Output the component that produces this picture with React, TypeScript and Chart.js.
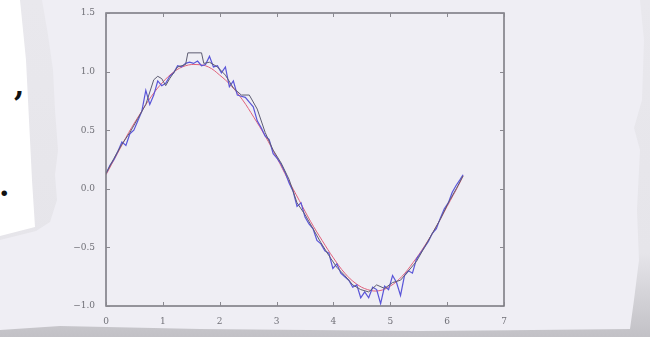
import React, { useEffect, useRef } from "react";
import { Chart, registerables } from "chart.js";

Chart.register(...registerables);

const xTicks = [0, 1, 2, 3, 4, 5, 6, 7];
const yTicks = [-1.0, -0.5, 0.0, 0.5, 1.0, 1.5];

const fitX = [0, 0.2, 0.4, 0.6, 0.8, 1.0, 1.2, 1.4, 1.6, 1.8, 2.0, 2.2, 2.4, 2.6, 2.8, 3.0, 3.2, 3.4, 3.6, 3.8, 4.0, 4.2, 4.4, 4.6, 4.8, 5.0, 5.2, 5.4, 5.6, 5.8, 6.0, 6.2, 6.28];
const fitY = [0.12, 0.3, 0.48, 0.64, 0.79, 0.91, 1.0, 1.05, 1.06, 1.04, 0.97, 0.88, 0.76, 0.61, 0.45, 0.27, 0.08, -0.1, -0.28, -0.44, -0.59, -0.72, -0.81, -0.86, -0.87, -0.83, -0.75, -0.63, -0.49, -0.33, -0.15, 0.03, 0.11];

const noisyX = [0, 0.07, 0.14, 0.21, 0.28, 0.35, 0.42, 0.49, 0.56, 0.63, 0.7, 0.77, 0.84, 0.91, 0.98, 1.05, 1.12, 1.19, 1.26, 1.33, 1.4, 1.47, 1.54, 1.61, 1.68, 1.75, 1.82, 1.89, 1.96, 2.03, 2.1, 2.17, 2.24, 2.31, 2.38, 2.45, 2.52, 2.59, 2.66, 2.73, 2.8, 2.87, 2.94, 3.01, 3.08, 3.15, 3.22, 3.29, 3.36, 3.43, 3.5, 3.57, 3.64, 3.71, 3.78, 3.85, 3.92, 3.99, 4.06, 4.13, 4.2, 4.27, 4.34, 4.41, 4.48, 4.55, 4.62, 4.69, 4.76, 4.83, 4.9, 4.97, 5.04, 5.11, 5.18, 5.25, 5.32, 5.39, 5.46, 5.53, 5.6, 5.67, 5.74, 5.81, 5.88, 5.95, 6.02, 6.09, 6.16, 6.23, 6.28];
const noisyY = [0.13, 0.2, 0.25, 0.32, 0.4, 0.37, 0.47, 0.5, 0.58, 0.66, 0.84, 0.72, 0.8, 0.92, 0.88, 0.9, 0.96, 0.99, 1.05, 1.04, 1.07, 1.08, 1.07, 1.09, 1.05, 1.06, 1.13, 1.04, 1.05, 0.99, 1.04, 0.87, 0.92, 0.8, 0.79, 0.78, 0.74, 0.7, 0.58, 0.52, 0.45, 0.42, 0.3, 0.26, 0.21, 0.14, 0.05, -0.02, -0.15, -0.12, -0.24, -0.3, -0.34, -0.44, -0.47, -0.53, -0.55, -0.68, -0.64, -0.72, -0.75, -0.78, -0.84, -0.82, -0.93, -0.88, -0.93, -0.84, -0.86, -0.98, -0.83, -0.86, -0.74, -0.8, -0.91, -0.74, -0.7, -0.72, -0.6, -0.55, -0.5, -0.45, -0.38, -0.34, -0.25, -0.17, -0.12, -0.03, 0.03, 0.08, 0.12];

const smoothX = [0, 0.14, 0.28, 0.42, 0.56, 0.7, 0.84, 0.91, 0.98, 1.05, 1.12, 1.26, 1.4, 1.44, 1.68, 1.72, 1.82, 1.96, 2.1, 2.24, 2.38, 2.52, 2.66, 2.8, 2.94, 3.08, 3.22, 3.36, 3.5, 3.64, 3.78, 3.92, 4.06, 4.2, 4.34, 4.48, 4.62, 4.76, 4.9, 5.04, 5.18, 5.32, 5.46, 5.6, 5.74, 5.88, 6.02, 6.16, 6.28];
const smoothY = [0.13, 0.26, 0.38, 0.48, 0.6, 0.72, 0.93, 0.96, 0.94, 0.88, 0.94, 1.04, 1.06, 1.16, 1.16, 1.07, 1.08, 1.04, 0.97, 0.86, 0.8, 0.8, 0.68, 0.48, 0.33, 0.22, 0.08, -0.12, -0.22, -0.34, -0.46, -0.57, -0.67, -0.74, -0.82, -0.86, -0.88, -0.82, -0.85, -0.8, -0.78, -0.7, -0.62, -0.5, -0.38, -0.26, -0.12, 0.0, 0.11];

const pts = (xs: number[], ys: number[]) => xs.map((x, i) => ({ x, y: ys[i] }));

const frame = {
  id: "frame",
  afterDatasetsDraw(chart: any) {
    const { ctx, chartArea: a, scales } = chart;
    ctx.save();
    ctx.strokeStyle = "#77767d";
    ctx.lineWidth = 1.5;
    ctx.strokeRect(a.left, a.top, a.right - a.left, a.bottom - a.top);
    ctx.lineWidth = 1;
    ctx.strokeStyle = "#8a8990";
    ctx.beginPath();
    xTicks.forEach((v) => {
      const p = Math.round(scales.x.getPixelForValue(v)) + 0.5;
      ctx.moveTo(p, a.top);
      ctx.lineTo(p, a.top + 4);
      ctx.moveTo(p, a.bottom);
      ctx.lineTo(p, a.bottom - 4);
    });
    yTicks.forEach((v) => {
      const p = Math.round(scales.y.getPixelForValue(v)) + 0.5;
      ctx.moveTo(a.left, p);
      ctx.lineTo(a.left + 4, p);
      ctx.moveTo(a.right, p);
      ctx.lineTo(a.right - 4, p);
    });
    ctx.stroke();
    ctx.restore();
  },
};

export default function App() {
  const ref = useRef<HTMLCanvasElement>(null);
  useEffect(() => {
    if (!ref.current) return;
    const tickFont = { family: "DejaVu Serif", size: 9 };
    const chart = new Chart(ref.current, {
      type: "line",
      data: {
        datasets: [
          { data: pts(smoothX, smoothY), borderColor: "#5d5c72", borderWidth: 1, pointRadius: 0, tension: 0 },
          { data: pts(noisyX, noisyY), borderColor: "#5a55d8", borderWidth: 1.2, pointRadius: 0, tension: 0 },
          { data: pts(fitX, fitY), borderColor: "#e0607a", borderWidth: 1, pointRadius: 0, tension: 0.4 },
        ],
      },
      options: {
        responsive: false,
        animation: false,
        layout: { padding: { left: 72, right: 146, top: 13, bottom: 11 } },
        plugins: { legend: { display: false }, tooltip: { enabled: false } },
        scales: {
          x: {
            type: "linear",
            min: 0,
            max: 7,
            afterBuildTicks: (s: any) => { s.ticks = xTicks.map((v) => ({ value: v })); },
            afterFit: (s: any) => { s.height = 20; },
            grid: { display: false },
            border: { display: false },
            ticks: { font: tickFont, color: "#707077", padding: 2, maxRotation: 0, callback: (v: any) => String(v) },
          },
          y: {
            type: "linear",
            min: -1,
            max: 1.5,
            afterBuildTicks: (s: any) => { s.ticks = yTicks.map((v) => ({ value: v })); },
            afterFit: (s: any) => { s.width = 34; },
            grid: { display: false },
            border: { display: false },
            ticks: {
              font: tickFont,
              color: "#707077",
              padding: 3,
              callback: (v: any) => (v < 0 ? "\u2212" : "") + Math.abs(Number(v)).toFixed(1),
            },
          },
        },
      },
      plugins: [frame],
    });
    return () => chart.destroy();
  }, []);

  const paper =
    "polygon(42px 0, 640px 0, 644px 40px, 642px 100px, 634px 128px, 640px 150px, 637px 210px, 639px 260px, 634px 300px, 630px 329px, 420px 331px, 200px 329px, 60px 326px, 0 330px, 0 240px, 36px 231px, 50px 222px, 57px 200px, 55px 175px, 58px 150px, 55px 110px, 53px 70px, 48px 35px)";
  const white = "polygon(0 0, 20px 0, 26px 60px, 29px 120px, 32px 180px, 35px 227px, 0 236px)";

  return (
    <div style={{ position: "fixed", left: 0, top: 0, width: 650, height: 337, overflow: "hidden", background: "linear-gradient(180deg, #e9e8ed 0%, #e6e5ea 75%, #c2c1c6 100%)" }}>
      <div style={{ position: "absolute", left: 0, top: 0, width: 650, height: 337, background: "#efeef4", clipPath: paper }} />
      <div style={{ position: "absolute", left: 0, top: 0, width: 650, height: 337, background: "#ffffff", clipPath: white }} />
      <span style={{ position: "absolute", left: 14, top: 68, fontFamily: "DejaVu Serif", fontWeight: "bold", fontSize: 30, color: "#111" }}>,</span>
      <span style={{ position: "absolute", left: -1, top: 168, fontFamily: "DejaVu Serif", fontWeight: "bold", fontSize: 30, color: "#111" }}>.</span>
      <canvas ref={ref} width={650} height={337} style={{ position: "absolute", left: 0, top: 0 }} />
    </div>
  );
}
